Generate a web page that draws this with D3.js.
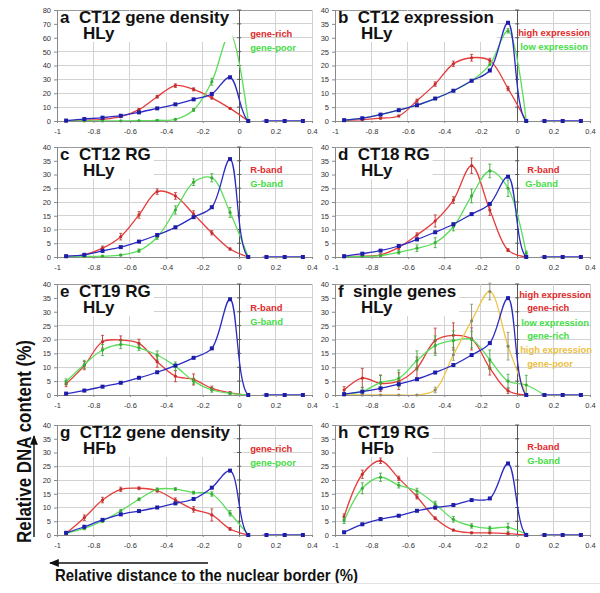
<!DOCTYPE html>
<html><head><meta charset="utf-8">
<script src="https://cdnjs.cloudflare.com/ajax/libs/d3/7.8.5/d3.min.js"></script>
<style>body{margin:0;background:#fff}svg{display:block}</style>
</head><body><svg id="c" width="600" height="593"></svg>
<script>
// ---------- data ----------
const xBins = [-0.95,-0.85,-0.75,-0.65,-0.55,-0.45,-0.35,-0.25,-0.15,-0.05,0.05,0.15,0.25,0.35];
const xTicks = [-1,-0.8,-0.6,-0.4,-0.2,0,0.2,0.4];
const yTicks80 = [0,10,20,30,40,50,60,70,80];
const yTicks40 = [0,5,10,15,20,25,30,35,40];

const panelTitles = ["a  CT12 gene density","b  CT12 expression","c  CT12 RG","d  CT18 RG","e  CT19 RG","f  single genes","g  CT12 gene density","h  CT19 RG"];
const panelCells = ["HLy","HLy","HLy","HLy","HLy","HLy","HFb","HFb"];

// panel a
const aRed   = [0,0.5,1.2,3.1,8.2,17.5,25.5,22.8,16.7,9.1,0];
const aRedErr= [0,0,0.3,0.5,0.8,1,1.3,1.1,0.9,0.6,0];
const aGreen = [0,0,0,0.1,0.2,0.5,1.2,8,28.3,63,0];
const aGreenErr=[0,0,0,0,0,0.3,0.5,1,2.5,3,0];
const aBlue  = [0.3,1.4,2.4,3.8,6.2,9.1,12,15.6,19.5,31.5,0,0,0,0];
// panel b
const bRed   = [0.2,0.5,1,1.8,7.3,13.3,20.6,22.8,21.8,11.7,0];
const bRedErr= [0,0.2,0.3,0.3,0.6,0.8,1,1.2,0.8,0.8,0];
const bGreen = [0.3,1,2.3,3.9,5.7,8.1,10.9,14.5,20.3,32.5,0];
const bGreenErr=[0,0,0,0,0,0,0,0,0,0.8,0];
const bBlue  = [0.3,1,2.3,3.9,5.7,8.1,10.9,14.5,18.2,35.4,0,0,0,0];
// panel c
const cRed   = [0.2,0.8,3.2,7.4,15.3,23.8,22.2,15.6,8.8,2.9,0];
const cRedErr= [0,0.3,0.8,1.2,1.2,1,1.2,1.2,0.8,0.4,0];
const cGreen = [0.1,0.2,0.3,0.7,2.3,7.2,17.1,27.2,28.8,16.2,0];
const cGreenErr=[0,0,0,0.3,0.6,0.8,1.5,1.2,1.5,1.8,0];
const cBlue  = [0.3,0.8,2.2,3.6,5.6,8,10.8,14.5,18.1,35.6,0,0,0,0];
// panel d
const dRed   = [0.2,0.3,0.8,3.5,8,13.1,20.7,33.2,17.1,2.5,0];
const dRedErr= [0,0.2,0.3,0.8,0.8,2.2,1.2,2.8,2,0.5,0];
const dGreen = [0,0.2,0.5,1.7,3.2,5.2,11,22.2,31.3,25,1.3];
const dGreenErr=[0,0,0.3,0.6,1.2,1.8,1.5,2.5,2.5,3,0.8];
const dBlue  = [0.3,1.2,2.3,4,6.4,9,11.9,15.6,19.3,29.2,0,0,0,0];
// panel e
const eRed   = [4,10.6,19.2,19.8,18.6,12,6.8,5.6,2.4,0.8,0];
const eRedErr= [1,1.5,2.3,1.5,1.5,2,2,2,0.8,0.4,0];
const eGreen = [4.8,11,16.2,18.2,17,14.4,10.4,5,1.8,0.6,0];
const eGreenErr=[1,1.5,2,1.5,1,1.5,1.5,1,0.8,0.3,0];
const eBlue  = [0.5,1.6,3,4.4,6.2,8.2,10.6,13.4,16.8,34.5,0,0,0,0];
// panel f
const fRed   = [1.8,6.1,4.2,5,9.7,19.6,21.5,20.2,9.7,1.5,0];
const fRedErr= [1.2,3.5,3,3,4,4.5,4.5,4,2.5,1,0];
const fGreen = [0.3,1.3,4.5,6,12.4,17.8,19.6,20,12.7,5,3.6,0];
const fGreenErr=[0.5,1.5,2.5,3,3.5,3.5,3.5,3,3.5,2.5,3.5,0];
const fOrange= [0,0,0,0,0,1.8,14.5,26.7,37.3,17.6,0];
const fOrangeErr=[0,0,0,0,0,1,2,6,3,5,0];
const fBlue  = [0.3,1.2,2.4,3.9,5.7,8.1,10.8,14.4,18.7,34.9,0,0,0,0];
// panel g
const gRed   = [0.6,6.3,12.7,16.6,17,16.1,12.7,9.3,7.3,2.2,0];
const gRedErr= [0.5,1,1,0.8,0.5,0.5,0.8,1,2.2,0.5,0];
const gGreen = [0.6,2.4,5.1,8.8,13,16.6,16.7,15.4,14.9,7.9,0];
const gGreenErr=[0.3,0.5,0.5,0.5,0.5,0.5,0.5,0.5,0.8,1,0];
const gBlue  = [0.8,3,5.5,7.5,8.7,10,11.5,13.1,17.2,23.4,0,0,0,0];
// panel h
const hRed   = [6.7,22.1,27,20.6,13.9,6.1,1.8,0.8,0.8,0.5,0];
const hRedErr= [1,1.5,1,0.8,0.8,0.5,0.3,0.3,0.3,0.3,0];
const hGreen = [5.2,17,21,18.1,16,11.3,5.7,3.3,2.4,2.8,0.3];
const hGreenErr=[1,2,1.5,1,1,1,1,0.8,0.8,1.5,0];
const hBlue  = [1,3.9,5.8,7,8.8,10,10.9,12.7,13.3,26,0,0,0,0];

const legendA = ["gene-rich","gene-poor"];
const legendB = ["high expression","low expression"];
const legendRG = ["R-band","G-band"];
const legendF = ["high expression","gene-rich","low expression","gene-rich","high expression","gene-poor"];

// ---------- styles ----------
const COL = {red:"#e63c3c", green:"#5ade5a", blue:"#2b2bc4", orange:"#f2c548"};
const ERR = {red:"#c03030", green:"#3aaa3a", orange:"#8a8a70"};
const TXT = {red:"#e02a2a", green:"#45dd45", orange:"#edc040"};

const svg = d3.select("#c");
const LC = {x0:57, x1:312}, RC = {x0:335, x1:590};
const ROWS = [{y0:10,y1:121},{y0:147,y1:257},{y0:284,y1:395},{y0:425,y1:535}];

const panels = [
 {col:LC,row:0,ymax:80,yt:yTicks80,series:[["red",aRed,aRedErr],["green",aGreen,aGreenErr],["blue",aBlue]],
  leg:[[legendA[0],"red",11,27],[legendA[1],"green",11,41]]},
 {col:RC,row:0,ymax:40,yt:yTicks40,series:[["red",bRed,bRedErr],["green",bGreen,bGreenErr],["blue",bBlue]],
  leg:[[legendB[0],"red",1,26],[legendB[1],"green",3,40]]},
 {col:LC,row:1,ymax:40,yt:yTicks40,series:[["red",cRed,cRedErr],["green",cGreen,cGreenErr],["blue",cBlue]],
  leg:[[legendRG[0],"red",11,26],[legendRG[1],"green",11,40]]},
 {col:RC,row:1,ymax:40,yt:yTicks40,series:[["red",dRed,dRedErr],["green",dGreen,dGreenErr],["blue",dBlue]],
  leg:[[legendRG[0],"red",10,26],[legendRG[1],"green",8,40]]},
 {col:LC,row:2,ymax:40,yt:yTicks40,series:[["red",eRed,eRedErr],["green",eGreen,eGreenErr],["blue",eBlue]],
  leg:[[legendRG[0],"red",11,27],[legendRG[1],"green",11,41]]},
 {col:RC,row:2,ymax:40,yt:yTicks40,series:[["red",fRed,fRedErr],["green",fGreen,fGreenErr],["orange",fOrange,fOrangeErr],["blue",fBlue]],
  leg:[[legendF[0],"red",2,14],[legendF[1],"red",10,27],[legendF[2],"green",4,42],[legendF[3],"green",10,55],[legendF[4],"orange",3,69],[legendF[5],"orange",10,83]]},
 {col:LC,row:3,ymax:40,yt:yTicks40,series:[["red",gRed,gRedErr],["green",gGreen,gGreenErr],["blue",gBlue]],
  leg:[[legendA[0],"red",11,27],[legendA[1],"green",11,41]]},
 {col:RC,row:3,ymax:40,yt:yTicks40,series:[["red",hRed,hRedErr],["green",hGreen,hGreenErr],["blue",hBlue]],
  leg:[[legendRG[0],"red",10,25],[legendRG[1],"green",10,39]]},
];

const fmtX = d => d === 0 ? "0" : String(+d.toFixed(1));
const FONT = "'Liberation Sans', Arial, sans-serif";

panels.forEach((p, i) => {
  const r = ROWS[p.row];
  const x = d3.scaleLinear().domain([-1, 0.4]).range([p.col.x0, p.col.x1]);
  const y = d3.scaleLinear().domain([0, p.ymax]).range([r.y1, r.y0]);
  const g = svg.append("g");

  // grid
  g.selectAll("line.hg").data(p.yt.slice(1)).join("line")
    .attr("x1", x(-1)).attr("x2", x(0.4)).attr("y1", d => y(d)).attr("y2", d => y(d))
    .attr("stroke", (d,k,a) => k === a.length-1 ? "#9a9a9a" : "#d2d2d2").attr("stroke-width", 1)
    .attr("shape-rendering","crispEdges");
  g.selectAll("line.vg").data(xTicks.filter(t => t !== -1 && t !== 0)).join("line")
    .attr("x1", d => x(d)).attr("x2", d => x(d)).attr("y1", y(0)).attr("y2", y(p.ymax))
    .attr("stroke", "#d2d2d2").attr("shape-rendering","crispEdges");

  // axes
  const ax = g.append("g").attr("transform", `translate(${x(-1)},0)`)
    .call(d3.axisLeft(y).tickValues(p.yt).tickSize(3).tickPadding(3));
  const bx = g.append("g").attr("transform", `translate(0,${y(0)})`)
    .call(d3.axisBottom(x).tickValues(xTicks).tickSize(2).tickPadding(6).tickFormat(fmtX));
  [ax, bx].forEach(a => {
    a.select(".domain").attr("stroke", "#8a8a8a");
    a.selectAll(".tick line").attr("stroke", "#8a8a8a");
    a.selectAll("text").attr("font-family", FONT).attr("font-size", 7.5).attr("fill", "#333");
  });

  // zero line with ticks
  g.append("line").attr("x1", x(0)).attr("x2", x(0)).attr("y1", y(0)).attr("y2", y(p.ymax))
    .attr("stroke", "#555").attr("shape-rendering","crispEdges");
  g.selectAll("line.zt").data(p.yt.slice(1)).join("line")
    .attr("x1", x(0)-2).attr("x2", x(0)+2).attr("y1", d => y(d)).attr("y2", d => y(d))
    .attr("stroke", "#555");

  // clip
  const cid = "clip" + i;
  svg.append("clipPath").attr("id", cid).append("rect")
    .attr("x", x(-1)).attr("y", y(p.ymax) - 10).attr("width", x(0.4) - x(-1)).attr("height", y(0) - y(p.ymax) + 10);

  const line = d3.line().x(d => x(d[0])).y(d => y(d[1])).curve(d3.curveCatmullRom.alpha(0.5));

  p.series.forEach(([c, vals, errs]) => {
    const pts = vals.map((v, k) => [xBins[k], v, errs ? errs[k] : 0]);
    g.append("path").attr("clip-path", `url(#${cid})`).datum(pts).attr("d", line)
      .attr("fill", "none").attr("stroke", COL[c]).attr("stroke-width", 1.3);
    if (c === "blue") {
      g.selectAll(null).data(pts).join("rect")
        .attr("x", d => x(d[0]) - 2).attr("y", d => y(d[1]) - 2).attr("width", 4).attr("height", 4)
        .attr("fill", "#1d1da8");
    } else {
      const eb = pts.filter(d => d[2] > 0);
      g.selectAll(null).data(eb).join("line")
        .attr("x1", d => x(d[0])).attr("x2", d => x(d[0]))
        .attr("y1", d => y(d[1] - d[2])).attr("y2", d => y(d[1] + d[2]))
        .attr("stroke", ERR[c]).attr("stroke-width", 0.9);
      ["-", "+"].forEach(s => {
        g.selectAll(null).data(eb).join("line")
          .attr("x1", d => x(d[0]) - 1.5).attr("x2", d => x(d[0]) + 1.5)
          .attr("y1", d => y(s === "-" ? d[1] - d[2] : d[1] + d[2]))
          .attr("y2", d => y(s === "-" ? d[1] - d[2] : d[1] + d[2]))
          .attr("stroke", ERR[c]).attr("stroke-width", 0.8);
      });
      g.selectAll(null).data(pts).join("circle")
        .attr("cx", d => x(d[0])).attr("cy", d => y(d[1])).attr("r", 1.6)
        .attr("fill", ERR[c]);
    }
  });

  // title with white box
  const tg = g.append("g");
  const bg = tg.append("rect").attr("fill", "#fff");
  const t1 = tg.append("text").attr("x", x(-1) + 3).attr("y", r.y0 + 12.5)
    .attr("font-family", FONT).attr("font-weight", "bold").attr("font-size", 17)
    .attr("fill", "#111").attr("xml:space","preserve").style("white-space","pre").text(panelTitles[i]);
  const t2 = tg.append("text").attr("x", x(-1) + 26).attr("y", r.y0 + 28.5)
    .attr("font-family", FONT).attr("font-weight", "bold").attr("font-size", 17)
    .attr("fill", "#111").text(panelCells[i]);
  const bb = t1.node().getBBox();
  bg.attr("x", x(-1) + 1).attr("y", r.y0 + 1).attr("width", bb.x + bb.width + 3 - (x(-1) + 1))
    .attr("height", 31);

  // legend
  p.leg.forEach(([txt, c, dx, dy]) => {
    g.append("text").attr("x", x(0) + dx).attr("y", r.y0 + dy)
      .attr("font-family", FONT).attr("font-weight", "bold").attr("font-size", 9.4)
      .attr("fill", TXT[c]).text(txt);
  });
});

// axis titles & arrows
svg.append("defs").append("marker").attr("id", "ah").attr("viewBox", "0 0 10 10")
  .attr("refX", 9).attr("refY", 5).attr("markerWidth", 7).attr("markerHeight", 7)
  .attr("orient", "auto-start-reverse").append("path").attr("d", "M0,1 L10,5 L0,9 Z").attr("fill", "#111");

svg.append("text").attr("transform", "translate(30.5,441.5) rotate(-90)").attr("text-anchor", "middle")
  .attr("font-family", FONT).attr("font-weight", "bold").attr("font-size", 20).attr("fill", "#111")
  .attr("textLength", 203).attr("lengthAdjust", "spacingAndGlyphs")
  .text("Relative DNA content (%)");
svg.append("line").attr("x1", 34).attr("x2", 34).attr("y1", 537).attr("y2", 436)
  .attr("stroke", "#111").attr("stroke-width", 1.4).attr("marker-end", "url(#ah)");

svg.append("text").attr("x", 55).attr("y", 581)
  .attr("font-family", FONT).attr("font-weight", "bold").attr("font-size", 16.5).attr("fill", "#111")
  .attr("textLength", 303).attr("lengthAdjust", "spacingAndGlyphs")
  .text("Relative distance to the nuclear border (%)");
svg.append("line").attr("x1", 208).attr("x2", 50).attr("y1", 563).attr("y2", 563)
  .attr("stroke", "#111").attr("stroke-width", 1.4).attr("marker-end", "url(#ah)");

svg.append("line").attr("x1", 173).attr("x2", 600).attr("y1", 583.5).attr("y2", 583.5)
  .attr("stroke", "#e2e2e2");
</script>
</body></html>
